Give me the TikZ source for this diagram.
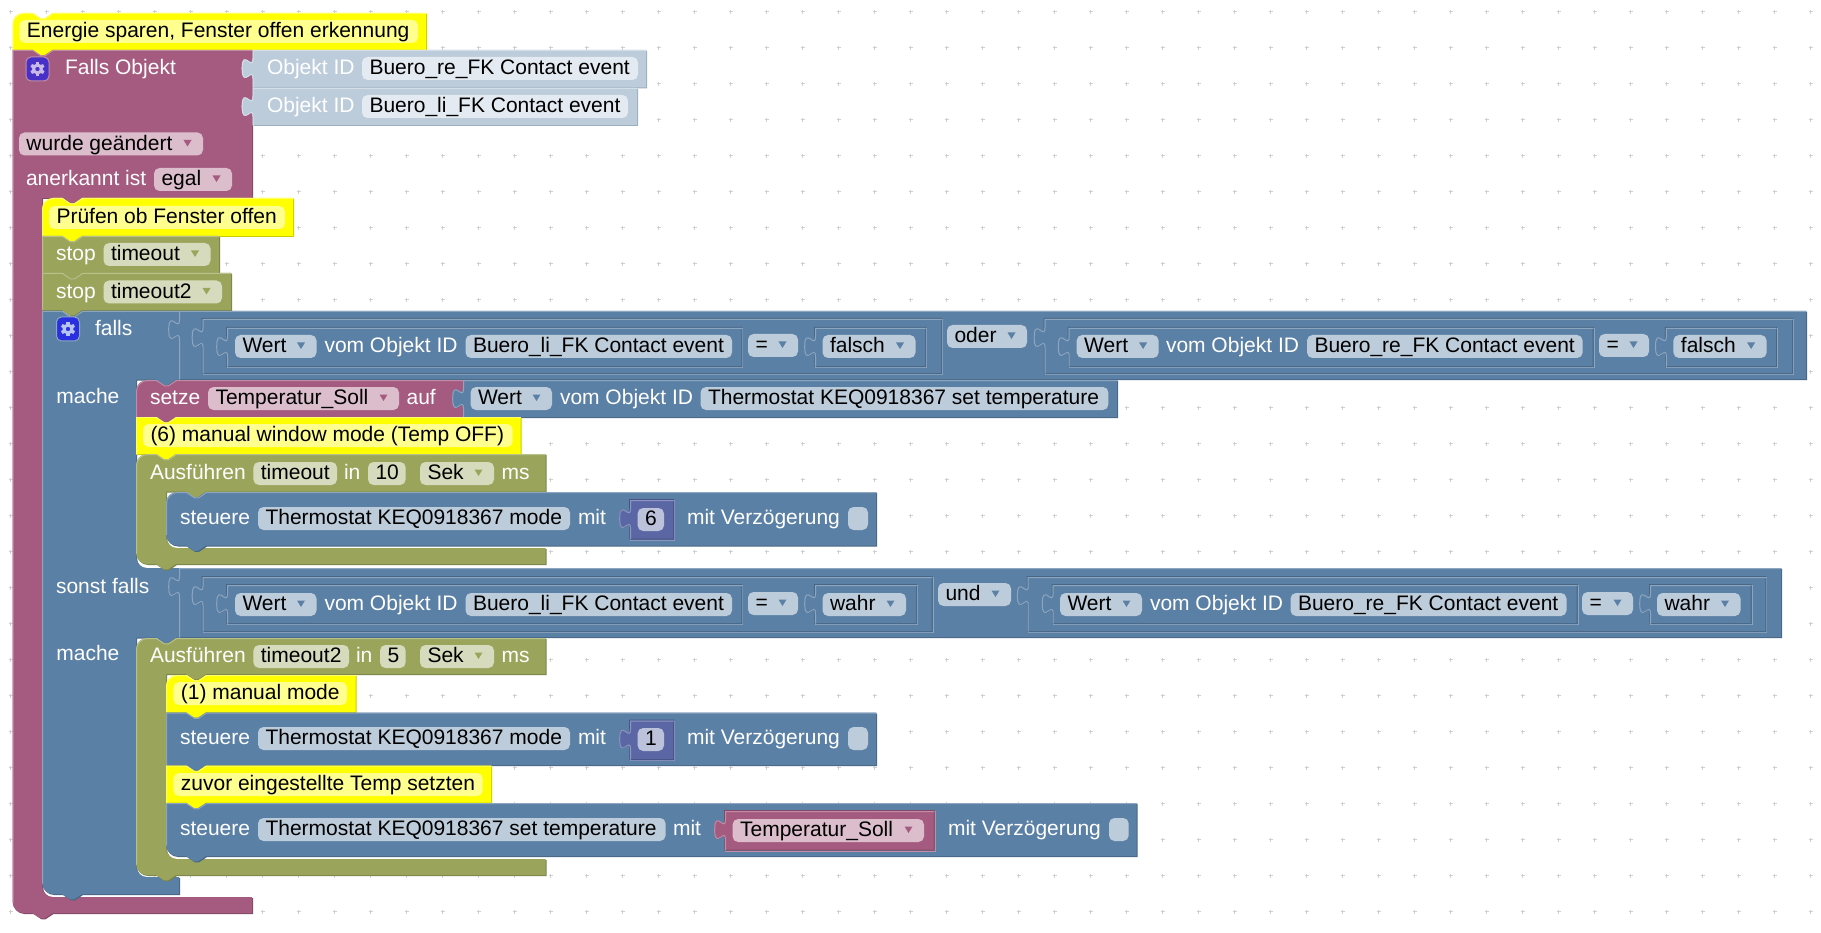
\documentclass[tikz,border=0pt]{standalone}
\usepackage{fontspec}
\setmainfont{Liberation Sans}
\definecolor{bluM}{HTML}{5B80A5}\definecolor{bluL}{HTML}{8CA6C0}\definecolor{bluD}{HTML}{496684}
\definecolor{purM}{HTML}{A55B80}\definecolor{purL}{HTML}{C08CA6}\definecolor{purD}{HTML}{844966}
\definecolor{oliM}{HTML}{9AA55B}\definecolor{oliL}{HTML}{B8C08C}\definecolor{oliD}{HTML}{7B8449}
\definecolor{numM}{HTML}{5B67A5}\definecolor{numL}{HTML}{8C95C0}\definecolor{numD}{HTML}{495284}
\definecolor{cmtM}{HTML}{FFFF00}\definecolor{cmtL}{HTML}{FFFF66}\definecolor{cmtD}{HTML}{CCCC00}
\definecolor{idbM}{HTML}{BDCCDB}\definecolor{idbL}{HTML}{D3DEE8}\definecolor{idbD}{HTML}{9DAEBF}
\definecolor{fBlu}{HTML}{BDCCDB}\definecolor{fPur}{HTML}{DBBDCC}\definecolor{fOli}{HTML}{D7DBBD}
\definecolor{fNum}{HTML}{BDC2DB}\definecolor{fCmt}{HTML}{FFFF8F}\definecolor{fIdb}{HTML}{E4EAF1}
\definecolor{gridc}{HTML}{D0D0D0}
\definecolor{icoA}{HTML}{4630C8}\definecolor{gearA}{HTML}{C8B8E8}
\definecolor{icoB}{HTML}{2A30E0}\definecolor{gearB}{HTML}{B8C4F0}
\newcounter{tx}
\tikzset{lab/.style={anchor=base west,inner sep=0pt,outer sep=0pt,font=\fontsize{21}{21}\selectfont}}
% path pieces
\newcommand\TL[2]{(#1,{#2+11}) .. controls (#1,{#2+5}) and ({#1+5},#2) .. ({#1+11},#2)}
\newcommand\BL[2]{-- ({#1+11},#2) .. controls ({#1+5},#2) and (#1,{#2-5}) .. (#1,{#2-11})}
\newcommand\NT[2]{-- ({#1+20},#2) -- ({#1+28},{#2+5.4}) -- ({#1+32},{#2+5.4}) -- ({#1+40},#2)}
\newcommand\NB[2]{-- ({#1+40},#2) -- ({#1+32},{#2+5.4}) -- ({#1+28},{#2+5.4}) -- ({#1+20},#2)}
\newcommand\TB[2]{-- (#1,{#2+8}) .. controls (#1,{#2+21.5}) and ({#1-10.8},{#2-2.8}) .. ({#1-10.8},{#2+18.1}) .. controls ({#1-10.8},{#2+39}) and (#1,{#2+14.75}) .. (#1,{#2+28.25})}
% generic drawing
\newcommand\shapedraw[1]{%
  \path[fill=#1D,shift={(1,1)}] \blkpath;
  \path[fill=#1M] \blkpath;
  \path[draw=#1L,line width=1pt,shift={(.5,.5)}] \blklight;}
% statement block: colour,x1,y1,x2,y2,roundtop,roundbottom
\newcommand\sblock[7]{%
  \ifnum#6=1 \def\blkst{\TL{#2}{#3}}\else\def\blkst{(#2,#3)}\fi
  \ifnum#7=1 \def\blken{\BL{#2}{#5}}\else\def\blken{-- (#2,#5)}\fi
  \def\blkpath{\blkst \NT{#2}{#3} -- (#4,#3) -- (#4,#5) \NB{#2}{#5} \blken -- cycle}%
  \ifnum#7=1 \def\blkfoot{{#5-11}}\else\def\blkfoot{#5}\fi
  \ifnum#6=1 \def\blklight{\TL{#2}{#3} \NT{#2}{#3} -- (#4,#3) (#2,{#3+11}) -- (#2,\blkfoot)}%
  \else\def\blklight{(#2,\blkfoot) -- (#2,#3) \NT{#2}{#3} -- (#4,#3)}\fi
  \shapedraw{#1}}
% C-shaped block: colour,x1,y1,x2,y2,stem,y3,y4
\newcommand\cblock[8]{%
  \def\blkpath{\TL{#2}{#3} \NT{#2}{#3} -- (#4,#3) -- (#4,#5) \NB{#6}{#5} -- (#6,#5) -- (#6,{#7-11})
    .. controls (#6,{#7-5}) and ({#6+5},#7) .. ({#6+11},#7) -- (#4,#7) -- (#4,#8) \NB{#2}{#8} \BL{#2}{#8} -- cycle}%
  \def\blklight{\TL{#2}{#3} \NT{#2}{#3} -- (#4,#3) (#2,{#3+11}) -- (#2,{#8-11})}%
  \shapedraw{#1}}
% value block: colour,x1,y1,x2,y2
\newcommand\vblock[5]{%
  \def\blkpath{(#2,#3) \TB{#2}{#3} -- (#2,#5) -- (#4,#5) -- (#4,#3) -- cycle}%
  \def\blklight{(#4,#3) -- (#2,#3) \TB{#2}{#3} -- (#2,#5)}%
  \shapedraw{#1}}
% value block in an inlaid input
\newcommand\vinset[5]{%
  \path[draw=#1D,line width=1pt] (#2,{#5+1}) -- ({#2-.5},{#3-.5}) -- ({#4+1},{#3-.5});
  \path[draw=#1L,line width=1pt] ({#4+1.5},#3) -- ({#4+1.5},{#5+1.5}) -- (#2,{#5+1.5});
  \vblock{#1}{#2}{#3}{#4}{#5}}
% texts
\newcommand\lbl[3]{\stepcounter{tx}\node[lab,text=white] (t\thetx) at (#1,{#2+6.4}) {#3};}
\newcommand\blk[3]{\stepcounter{tx}\node[lab,text=black] (t\thetx) at ({#1},{#2+6.4}) {#3};}
\newcommand\fldbox[4]{\path[fill=#1,rounded corners=5.5pt] (#2,{#4-11.5}) rectangle (#3,{#4+11.5});}
\newcommand\fld[5]{\fldbox{#1}{#2}{#3}{#4}\blk{#2+7.5}{#4}{#5}}
\newcommand\ddf[6]{\fldbox{#1}{#3}{#4}{#5}\blk{#3+7.5}{#5}{#6}%
  \fill[#2] ({#4-19.5},{#5-4}) -- ({#4-11.5},{#5-4}) -- ({#4-15.5},{#5+2.5}) -- cycle;}
\newcommand\gear[5]{%
  \path[fill=#3,draw=#4,line width=1pt,rounded corners=5pt] ({#1-11.5},{#2-12}) rectangle ({#1+11.5},{#2+12});
  \begin{scope}[shift={(#1,#2)}]
    \draw[#5,line width=3pt] (0,0) circle[radius=3.9];
    \foreach \a in {30,90,...,330}{\draw[#5,line width=3.4pt] (\a:4.5) -- (\a:7.2);}
  \end{scope}}
\begin{document}
\begin{tikzpicture}[x=1pt,y=-1pt]
\useasboundingbox (0,0) rectangle (1821,933);
\fill[white] (0,0) rectangle (1821,933);
% grid
\foreach \i in {0,...,50}{\foreach \j in {0,...,25}{%
  \path[draw=gridc,line width=1pt] ({10.6+36*\i-2},{11.7+36*\j}) -- ({10.6+36*\i+2},{11.7+36*\j})
     ({10.6+36*\i},{11.7+36*\j-2}) -- ({10.6+36*\i},{11.7+36*\j+2});}}
% --- top comment
\sblock{cmt}{12.5}{13}{426}{50}{1}{0}
\fld{fCmt}{19.4}{418}{31.5}{Energie sparen, Fenster offen erkennung}
% --- trigger block
\def\blkpath{(12.5,50) \NT{12.5}{50} -- (252,50) -- (252,198) \NB{42}{198} -- (42,198) -- (42,886)
  .. controls (42,892) and (47,897) .. (53,897) -- (252,897) -- (252,913) \NB{12.5}{913} \BL{12.5}{913} -- cycle}
\def\blklight{(12.5,902) -- (12.5,50) \NT{12.5}{50} -- (252,50)}
\shapedraw{pur}
\gear{37.5}{69}{icoA}{purL}{gearA}
\lbl{65}{68}{Falls Objekt}
\vblock{idb}{252.5}{50}{646}{87.5}
\lbl{267}{68}{Objekt ID}
\fld{fIdb}{362}{638}{68.5}{Buero\_re\_FK Contact event}
\vblock{idb}{252.5}{88}{637}{125}
\lbl{267}{106.5}{Objekt ID}
\fld{fIdb}{362}{628}{106.5}{Buero\_li\_FK Contact event}
\ddf{fPur}{purM}{19}{203}{144}{wurde geändert}
\lbl{26}{179.5}{anerkannt ist}
\ddf{fPur}{purM}{154}{232}{179.5}{egal}
% --- nested comment and stops
\sblock{cmt}{42}{198}{293}{236}{1}{0}
\fld{fCmt}{49}{285}{217.5}{Prüfen ob Fenster offen}
\sblock{oli}{42}{236}{219}{273}{0}{0}
\lbl{56}{254.5}{stop}
\ddf{fOli}{oliM}{103.5}{210.5}{254.5}{timeout}
\sblock{oli}{42}{273}{231}{310}{0}{0}
\lbl{56}{292}{stop}
\ddf{fOli}{oliM}{103.5}{222}{292}{timeout2}
% --- if block
\def\blkpath{(42,311) \NT{42}{311} -- (179,311) -- (179,379.5) \NB{136}{379.5} -- (136,379.5) -- (136,557)
  .. controls (136,563) and (141,568) .. (147,568) -- (179,568) -- (179,637.5) \NB{136}{637.5} -- (136,637.5) -- (136,866)
  .. controls (136,872) and (141,877) .. (147,877) -- (179,877) -- (179,894) \NB{42}{894} \BL{42}{894} -- cycle}
\def\blklight{(42,883) -- (42,311) \NT{42}{311} -- (179,311)}
\shapedraw{blu}
\gear{68}{329}{icoB}{bluL}{gearB}
\lbl{95}{329}{falls}
\lbl{56.4}{397}{mache}
\lbl{56}{587}{sonst falls}
\lbl{56.4}{654}{mache}
% first condition
\vblock{blu}{179}{311}{1806}{379}
\vinset{blu}{202.5}{319}{941}{373}
\vinset{blu}{227}{328}{741.4}{366}
\ddf{fBlu}{bluM}{235}{316.5}{346.5}{Wert}
\lbl{324.5}{346.5}{vom Objekt ID}
\fld{fBlu}{465.5}{732}{346.5}{Buero\_li\_FK Contact event}
\ddf{fBlu}{bluM}{748}{798}{345.5}{=}
\vinset{blu}{815}{328}{925}{366}
\ddf{fBlu}{bluM}{822.5}{915.5}{346.5}{falsch}
\ddf{fBlu}{bluM}{947}{1027}{336.5}{oder}
\vinset{blu}{1044.5}{319}{1792}{373}
\vinset{blu}{1068.6}{328}{1592.5}{366}
\ddf{fBlu}{bluM}{1076.7}{1158.6}{346.5}{Wert}
\lbl{1166}{346.5}{vom Objekt ID}
\fld{fBlu}{1307}{1582.6}{346.5}{Buero\_re\_FK Contact event}
\ddf{fBlu}{bluM}{1599}{1649}{345.5}{=}
\vinset{blu}{1665.8}{328}{1775.8}{366}
\ddf{fBlu}{bluM}{1673.4}{1766.6}{346.5}{falsch}
% setze
\sblock{pur}{136}{380}{463}{417}{1}{0}
\lbl{150}{398.5}{setze}
\ddf{fPur}{purM}{208}{399}{398.5}{Temperatur\_Soll}
\lbl{406.6}{398.5}{auf}
\vblock{blu}{463}{380}{1117}{417}
\ddf{fBlu}{bluM}{470.5}{552}{398.5}{Wert}
\lbl{560}{398.5}{vom Objekt ID}
\fld{fBlu}{700.5}{1108.4}{398.5}{Thermostat KEQ0918367 set temperature}
% comment (6)
\sblock{cmt}{136}{417}{520.6}{454}{0}{0}
\fld{fCmt}{143}{512.6}{435.5}{(6) manual window mode (Temp OFF)}
% timeout
\cblock{oli}{136}{454}{545.5}{491.5}{166}{548}{564}
\lbl{150}{473.5}{Ausführen}
\fld{fOli}{253.4}{337}{473.5}{timeout}
\lbl{344}{473.5}{in}
\fld{fOli}{368}{405.7}{473.5}{10}
\ddf{fOli}{oliM}{420}{494}{473.5}{Sek}
\lbl{501.7}{473.5}{ms}
\sblock{blu}{166}{492}{876}{545.5}{1}{1}
\lbl{180}{518.5}{steuere}
\fld{fBlu}{258}{570}{518.5}{Thermostat KEQ0918367 mode}
\lbl{578}{518.5}{mit}
\vinset{num}{630}{500}{673}{538.5}
\fld{fNum}{637.6}{664}{519.5}{6}
\lbl{687}{518.5}{mit Verzögerung}
\fldbox{fBlu}{848}{868}{518.5}
% second condition
\vblock{blu}{179}{568}{1781}{637}
\vinset{blu}{202.5}{577}{931.6}{631}
\vinset{blu}{227}{585}{741.4}{623}
\ddf{fBlu}{bluM}{235}{316.5}{604.5}{Wert}
\lbl{324.5}{604.5}{vom Objekt ID}
\fld{fBlu}{465.5}{732}{604.5}{Buero\_li\_FK Contact event}
\ddf{fBlu}{bluM}{748}{798}{603.5}{=}
\vinset{blu}{815}{585}{916}{623}
\ddf{fBlu}{bluM}{822.5}{906}{604.5}{wahr}
\ddf{fBlu}{bluM}{938}{1011}{594.5}{und}
\vinset{blu}{1027.7}{577}{1765.4}{631}
\vinset{blu}{1052.6}{585}{1576.5}{623}
\ddf{fBlu}{bluM}{1060}{1142}{604.5}{Wert}
\lbl{1150}{604.5}{vom Objekt ID}
\fld{fBlu}{1290.5}{1566.5}{604.5}{Buero\_re\_FK Contact event}
\ddf{fBlu}{bluM}{1582}{1633}{603.5}{=}
\vinset{blu}{1650}{585}{1750.5}{623}
\ddf{fBlu}{bluM}{1657}{1740.5}{604.5}{wahr}
% timeout2
\cblock{oli}{136}{638}{545.5}{674}{166}{859}{875}
\lbl{150}{656.5}{Ausführen}
\fld{fOli}{253.4}{349}{656.5}{timeout2}
\lbl{356}{656.5}{in}
\fld{fOli}{380}{405.7}{656.5}{5}
\ddf{fOli}{oliM}{420}{494}{656.5}{Sek}
\lbl{501.7}{656.5}{ms}
\sblock{cmt}{166}{675}{355.6}{712}{1}{0}
\fld{fCmt}{173.4}{347}{693.5}{(1) manual mode}
\sblock{blu}{166}{712.5}{876}{765}{0}{0}
\lbl{180}{738.5}{steuere}
\fld{fBlu}{258}{570}{738.5}{Thermostat KEQ0918367 mode}
\lbl{578}{738.5}{mit}
\vinset{num}{630}{720.5}{673}{759}
\fld{fNum}{637.6}{664}{739.5}{1}
\lbl{687}{738.5}{mit Verzögerung}
\fldbox{fBlu}{848}{868}{738.5}
\sblock{cmt}{166}{765.5}{491}{802.5}{0}{0}
\fld{fCmt}{173.4}{482.7}{784.5}{zuvor eingestellte Temp setzten}
\sblock{blu}{166}{803}{1136.7}{856}{0}{1}
\lbl{180}{829.5}{steuere}
\fld{fBlu}{258}{665.6}{829.5}{Thermostat KEQ0918367 set temperature}
\lbl{673}{829.5}{mit}
\vinset{pur}{725}{811}{933.5}{849.5}
\ddf{fPur}{purM}{732.6}{924}{830.5}{Temperatur\_Soll}
\lbl{948}{829.5}{mit Verzögerung}
\fldbox{fBlu}{1109}{1128.7}{829.5}
\end{tikzpicture}
\end{document}
